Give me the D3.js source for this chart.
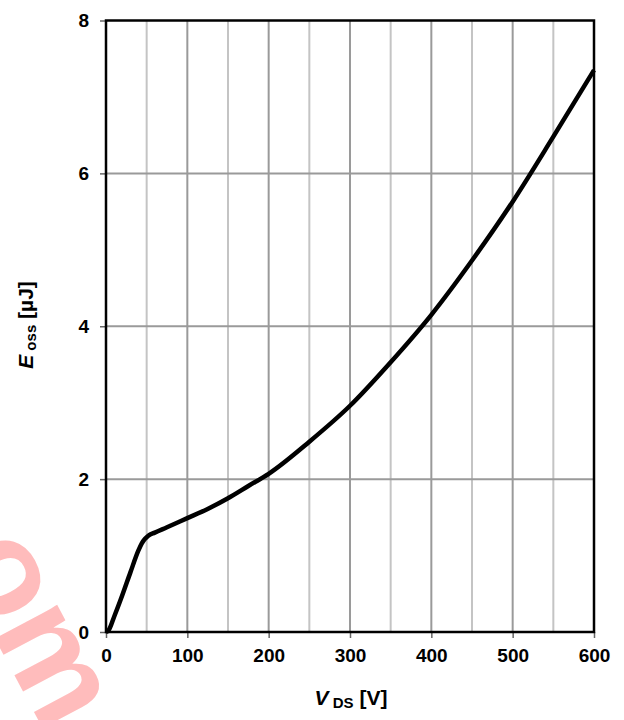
<!DOCTYPE html>
<html>
<head>
<meta charset="utf-8">
<script src="https://cdn.jsdelivr.net/npm/d3@7"></script>
<style>
body { margin: 0; background: #fff; }
text { font-family: "Liberation Sans", Arial, sans-serif; font-weight: bold; }
</style>
</head>
<body>
<script>
// Eoss vs VDS curve
var vds = [0, 3, 10, 20, 30, 40, 44, 48, 52, 60, 75, 100, 125, 150, 175, 200, 250, 300, 350, 400, 450, 500, 550, 600];
var eoss = [0, 0.02, 0.2, 0.48, 0.78, 1.07, 1.16, 1.22, 1.26, 1.30, 1.37, 1.49, 1.61, 1.75, 1.91, 2.07, 2.49, 2.96, 3.53, 4.15, 4.86, 5.63, 6.48, 7.35];
var xTicks = [0, 100, 200, 300, 400, 500, 600];
var xMinor = [50, 150, 250, 350, 450, 550];
var yTicks = [0, 2, 4, 6, 8];

var width = 624, height = 720;
var plotL = 106, plotR = 594, plotT = 20.5, plotB = 632;

var svg = d3.select("body").append("svg")
  .attr("width", width)
  .attr("height", height);

// watermark
svg.append("text")
  .attr("transform", "translate(-48,558) rotate(62)")
  .style("font-size", "134px")
  .style("font-family", "Liberation Sans, Arial, sans-serif")
  .style("font-weight", "bold")
  .attr("fill", "#ffbcbc")
  .text("om");

var x = d3.scaleLinear().domain([0, 600]).range([plotL, plotR]);
var y = d3.scaleLinear().domain([0, 8]).range([plotB, plotT]);

// grid
svg.selectAll(".minor").data(xMinor).enter().append("line")
  .attr("x1", function(d) { return x(d); })
  .attr("x2", function(d) { return x(d); })
  .attr("y1", plotT).attr("y2", plotB)
  .attr("stroke", "#c4c4c4").attr("stroke-width", 2);

svg.selectAll(".major").data(xTicks.slice(1, -1)).enter().append("line")
  .attr("x1", function(d) { return x(d); })
  .attr("x2", function(d) { return x(d); })
  .attr("y1", plotT).attr("y2", plotB)
  .attr("stroke", "#9a9a9a").attr("stroke-width", 2);

svg.selectAll(".hgrid").data(yTicks.slice(1, -1)).enter().append("line")
  .attr("x1", plotL).attr("x2", plotR)
  .attr("y1", function(d) { return y(d); })
  .attr("y2", function(d) { return y(d); })
  .attr("stroke", "#9a9a9a").attr("stroke-width", 2);

// axes
var xAxis = svg.append("g")
  .attr("transform", "translate(0," + plotB + ")")
  .call(d3.axisBottom(x).tickValues(xTicks).tickSize(6).tickPadding(11));
var yAxis = svg.append("g")
  .attr("transform", "translate(" + plotL + ",0)")
  .call(d3.axisLeft(y).tickValues(yTicks).tickSize(6).tickPadding(11));

[xAxis, yAxis].forEach(function(g) {
  g.select(".domain").remove();
  g.selectAll("line").attr("stroke", "#666").attr("stroke-width", 1.5);
  g.selectAll("text")
    .attr("fill", "#000")
    .style("font-size", "19px")
    .style("font-family", "Liberation Sans, Arial, sans-serif")
    .style("font-weight", "bold");
});

// frame
svg.append("rect")
  .attr("x", plotL).attr("y", plotT)
  .attr("width", plotR - plotL).attr("height", plotB - plotT)
  .attr("fill", "none").attr("stroke", "#000").attr("stroke-width", 2.5);

// curve
var line = d3.line()
  .x(function(d, i) { return x(vds[i]); })
  .y(function(d) { return y(d); })
  .curve(d3.curveMonotoneX);

svg.append("path")
  .datum(eoss)
  .attr("d", line)
  .attr("fill", "none")
  .attr("stroke", "#000")
  .attr("stroke-width", 4.5)
  .attr("stroke-linejoin", "round");

// axis titles
var xt = svg.append("text")
  .attr("x", 351).attr("y", 705)
  .attr("text-anchor", "middle")
  .style("font-size", "21px");
xt.append("tspan").style("font-style", "italic").text("V");
xt.append("tspan").attr("dy", 3).style("font-size", "15px").text(" DS");
xt.append("tspan").attr("dy", -3).text(" [V]");

var yt = svg.append("text")
  .attr("transform", "translate(33,325) rotate(-90)")
  .attr("text-anchor", "middle")
  .style("font-size", "21px");
yt.append("tspan").style("font-style", "italic").text("E");
yt.append("tspan").attr("dy", 3).style("font-size", "15px").text(" oss");
yt.append("tspan").attr("dy", -3).text(" [µJ]");
</script>
</body>
</html>
